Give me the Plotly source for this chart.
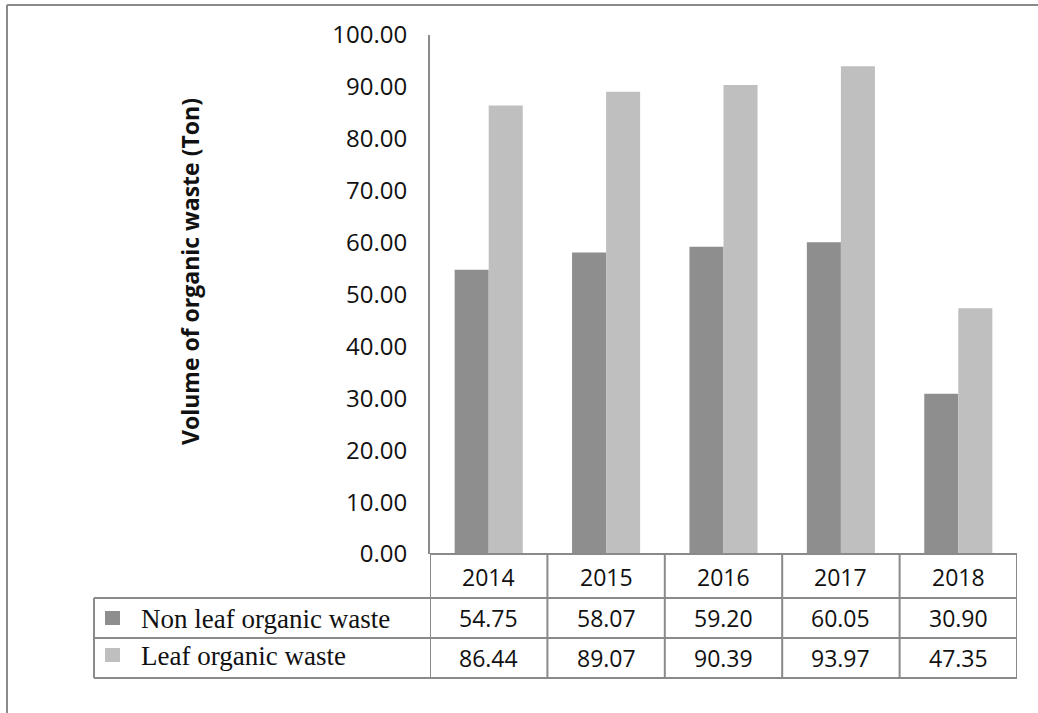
import plotly.graph_objects as go

years = ["2014", "2015", "2016", "2017", "2018"]
non_leaf = [54.75, 58.07, 59.20, 60.05, 30.90]
leaf = [86.44, 89.07, 90.39, 93.97, 47.35]
series_names = ["Non leaf organic waste", "Leaf organic waste"]
y_ticks = [0, 10, 20, 30, 40, 50, 60, 70, 80, 90, 100]

W, H = 1038, 713
DARK = "#8e8e8e"
LIGHT = "#bfbfbf"
LINE = "#8a8a8a"
NUMFONT = "Open Sans"

def px(x):
    return x / W

def py(y):
    return 1 - y / H

fig = go.Figure()
fig.add_trace(go.Bar(x=years, y=non_leaf, name=series_names[0], marker=dict(color=DARK, line=dict(width=0))))
fig.add_trace(go.Bar(x=years, y=leaf, name=series_names[1], marker=dict(color=LIGHT, line=dict(width=0))))

shapes = []
ann = []

# outer frame
shapes.append(dict(type="line", xref="paper", yref="paper", x0=px(7), x1=1, y0=py(5), y1=py(5), line=dict(color=LINE, width=2)))
shapes.append(dict(type="line", xref="paper", yref="paper", x0=px(7), x1=px(7), y0=py(5), y1=0, line=dict(color=LINE, width=2)))

# table horizontal lines
for yy, x0 in [(554, 430), (598, 94), (638, 94), (678, 94)]:
    shapes.append(dict(type="line", xref="paper", yref="paper", x0=px(x0), x1=px(1017), y0=py(yy), y1=py(yy), line=dict(color=LINE, width=2)))
# vertical lines in table at category boundaries
for i in range(len(years) + 1):
    shapes.append(dict(type="line", xref="x", yref="paper", x0=i - 0.5, x1=i - 0.5, y0=py(554), y1=py(678), line=dict(color=LINE, width=2)))
shapes.append(dict(type="line", xref="paper", yref="paper", x0=px(94), x1=px(94), y0=py(598), y1=py(678), line=dict(color=LINE, width=2)))

# year labels and values
for i, yr in enumerate(years):
    ann.append(dict(x=i, y=py(577), xref="x", yref="paper", text=yr, showarrow=False,
                    font=dict(family=NUMFONT, size=23, color="#111"), xanchor="center", yanchor="middle"))
    ann.append(dict(x=i, y=py(618), xref="x", yref="paper", text=f"{non_leaf[i]:.2f}", showarrow=False,
                    font=dict(family=NUMFONT, size=23, color="#111"), xanchor="center", yanchor="middle"))
    ann.append(dict(x=i, y=py(658), xref="x", yref="paper", text=f"{leaf[i]:.2f}", showarrow=False,
                    font=dict(family=NUMFONT, size=23, color="#111"), xanchor="center", yanchor="middle"))

# legend keys in table
for (yc, col, name) in [(618, DARK, series_names[0]), (655, LIGHT, series_names[1])]:
    shapes.append(dict(type="rect", xref="paper", yref="paper", x0=px(105), x1=px(120), y0=py(yc - 7), y1=py(yc + 7),
                       fillcolor=col, line=dict(width=0)))
    ann.append(dict(x=px(139), y=py(yc + 1), xref="paper", yref="paper", text=name, showarrow=False,
                    font=dict(family="Liberation Serif", size=27, color="#111"), xanchor="left", yanchor="middle"))

# y axis title
ann.append(dict(x=px(190), y=py(272), xref="paper", yref="paper", text="<b>Volume of organic waste (Ton)</b>",
                showarrow=False, textangle=-90, font=dict(family="Open Sans", size=23, color="#111"),
                xanchor="center", yanchor="middle"))

fig.update_layout(
    width=W, height=H,
    margin=dict(l=0, r=0, t=0, b=0),
    paper_bgcolor="white", plot_bgcolor="white",
    barmode="group", bargap=0.42, bargroupgap=0,
    showlegend=False,
    shapes=shapes, annotations=ann,
    xaxis=dict(domain=[px(430), px(1017)], showticklabels=False, ticks="", showgrid=False,
               showline=False, zeroline=False, range=[-0.5, 4.5], automargin=False),
    yaxis=dict(domain=[py(554), py(35)], range=[0, 100], tickvals=y_ticks,
               ticktext=[f"{v:.2f}" for v in y_ticks], ticks="", showgrid=False, zeroline=False,
               showline=True, linecolor=LINE, linewidth=2, ticklabelstandoff=16, automargin=False,
               tickfont=dict(family=NUMFONT, size=24, color="#111")),
)

fig.write_html("out.html")
